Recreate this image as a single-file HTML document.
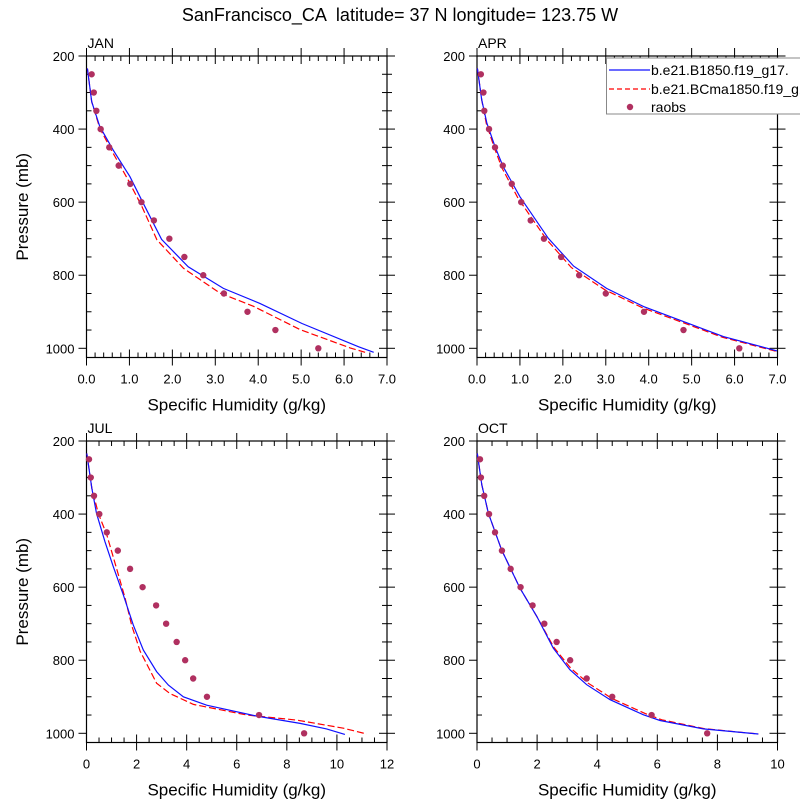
<!DOCTYPE html>
<html><head><meta charset="utf-8"><style>
body{margin:0;background:#fff}
svg{display:block;font-family:"Liberation Sans",sans-serif}
</style></head><body>
<svg id="c" width="800" height="800">
<text x="400" y="21" text-anchor="middle" font-size="18" style="white-space:pre" xml:space="preserve">SanFrancisco_CA  latitude= 37 N longitude= 123.75 W</text>
</svg>
<script>
const pLevels=[250,300,350,400,450,500,550,600,650,700,750,800,850,900,950,1000];
const janObs=[0.12,0.17,0.23,0.33,0.53,0.75,1.02,1.28,1.57,1.93,2.28,2.72,3.2,3.75,4.4,5.4];
const aprObs=[0.09,0.15,0.17,0.28,0.42,0.6,0.81,1.03,1.25,1.56,1.96,2.38,3.0,3.89,4.81,6.11];
const julObs=[0.1,0.17,0.3,0.51,0.81,1.25,1.74,2.24,2.78,3.18,3.6,3.94,4.26,4.81,6.89,8.69];
const octObs=[0.1,0.13,0.24,0.4,0.6,0.83,1.12,1.45,1.85,2.24,2.65,3.1,3.65,4.5,5.81,7.66];
const janBlueQ=[0.02,0.12,0.31,0.62,1.01,1.32,1.75,2.37,3.19,4.04,5.02,6.34,6.69];
const janBlueP=[234,325,393,457,530,603,702,777,836,877,932,996,1011];
const janRedQ=[0.02,0.12,0.31,0.62,0.97,1.29,1.64,2.26,3.11,3.89,4.98,6.14,6.49];
const janRedP=[234,325,398,466,539,612,703,781,849,885,949,999,1011];
const aprBlueQ=[0.01,0.11,0.23,0.42,0.61,1.0,1.66,2.25,3.02,3.88,4.81,5.74,6.99];
const aprBlueP=[234,320,384,448,503,585,699,775,836,886,927,968,1007];
const aprRedQ=[0.01,0.11,0.22,0.4,0.58,0.96,1.62,2.2,2.98,3.85,4.8,5.72,6.99];
const aprRedP=[234,320,386,450,506,590,702,779,840,889,930,970,1009];
const julBlueQ=[0.01,0.21,0.4,0.74,1.07,1.47,1.87,2.27,2.8,3.27,3.87,4.8,6.8,8.53,9.59,10.32];
const julBlueP=[234,329,398,476,544,621,704,772,831,868,900,923,953,973,988,1003];
const julRedQ=[0.01,0.21,0.47,0.81,1.2,1.54,1.8,2.14,2.8,3.33,4.27,6.4,8.4,10.26,11.19];
const julRedP=[234,329,398,457,548,630,704,775,863,891,921,950,964,986,1002];
const octBlueQ=[0.01,0.16,0.38,0.82,1.43,1.99,2.54,3.09,3.65,4.43,5.53,6.09,7.53,9.36];
const octBlueP=[234,320,398,498,603,680,767,826,867,908,949,965,988,1002];
const octRedQ=[0.01,0.16,0.38,0.82,1.43,1.99,2.56,3.12,3.7,4.5,5.6,6.15,7.55,9.36];
const octRedP=[234,320,398,498,603,680,765,822,863,905,946,963,987,1002];
const yTicks=[200,400,600,800,1000];
const xTicks7=["0.0","1.0","2.0","3.0","4.0","5.0","6.0","7.0"];
const xTicks12=["0","2","4","6","8","10","12"];
const xTicks10=["0","2","4","6","8","10"];

const NS="http://www.w3.org/2000/svg";
const svg=document.getElementById('c');
function mk(tag,attrs,parent){const e=document.createElementNS(NS,tag);for(const k in attrs)e.setAttribute(k,attrs[k]);(parent||svg).appendChild(e);return e;}

function panel(cfg){
  const L=cfg.x0,R=cfg.x0+300.5,T=cfg.y0,B=cfg.y0+301.5;
  const pMin=200,pMax=200+301.5/292.3*800;
  const xs=q=>L+q/cfg.xmax*(R-L);
  const ys=p=>T+(p-pMin)/(pMax-pMin)*(B-T);
  const g=mk('g',{});
  
  
  const fr=mk('rect',{x:L,y:T,width:R-L,height:B-T,fill:'none',stroke:'#000','stroke-width':1.2},g);
  
  
  for(let p=200;p<=1000;p+=50){
    const y=ys(p),maj=p%200===0;
    if(maj){mk('line',{x1:L-8,y1:y,x2:L,y2:y,stroke:'#000'},g);mk('line',{x1:R-8,y1:y,x2:R+8,y2:y,stroke:'#000'},g);}
    else{mk('line',{x1:L,y1:y,x2:L+5,y2:y,stroke:'#000'},g);mk('line',{x1:R-5,y1:y,x2:R+5,y2:y,stroke:'#000'},g);}
  }
  yTicks.forEach(p=>{const t=mk('text',{x:L-12,y:ys(p)+5,'text-anchor':'end','font-size':13},g);t.textContent=p;
    });
  const nMaj=cfg.labels.length-1, step=cfg.xmax/nMaj;
  for(let i=0;i<=nMaj*cfg.minor;i++){
    const q=i*step/cfg.minor,x=xs(q),maj=i%cfg.minor===0;
    mk('line',{x1:x,y1:B+(maj?8:0),x2:x,y2:B-(maj?8:5),stroke:'#000'},g);
    mk('line',{x1:x,y1:T-(maj?8:0),x2:x,y2:T+(maj?8:5),stroke:'#000'},g);
  }
  cfg.labels.forEach((lb,i)=>{const t=mk('text',{x:xs(i*step),y:B+26,'text-anchor':'middle','font-size':13},g);t.textContent=lb;
    });
  const xt=mk('text',{x:(L+R)/2,y:B+53,'text-anchor':'middle','font-size':17},g);xt.textContent='Specific Humidity (g/kg)';
  
  if(cfg.ylab){const yt=mk('text',{x:0,y:0,transform:`translate(28,${(T+B)/2}) rotate(-90)`,'text-anchor':'middle','font-size':17},g);yt.textContent='Pressure (mb)';
    }
  const pt=mk('text',{x:L+1,y:T-8,'font-size':14},g);pt.textContent=cfg.label;
  
  const path=(Q,P)=>Q.map((q,i)=>(i?'L':'M')+xs(q).toFixed(1)+','+ys(P[i]).toFixed(1)).join('');
  const rl=mk('path',{d:path(cfg.rq,cfg.rp),fill:'none',stroke:'#f00','stroke-width':1.2,'stroke-dasharray':'7,3'},g);
  
  const bl=mk('path',{d:path(cfg.bq,cfg.bp),fill:'none',stroke:'#1010ff','stroke-width':1.2},g);
  
  cfg.obs.forEach((q,i)=>{const c=mk('circle',{cx:xs(q),cy:ys(pLevels[i]),r:3.2,fill:'#b03060'},g);
    });
}
panel({name:'jan',label:'JAN',x0:86.5,y0:56,xmax:7,labels:xTicks7,minor:5,obs:janObs,bq:janBlueQ,bp:janBlueP,rq:janRedQ,rp:janRedP,ylab:true});
panel({name:'apr',label:'APR',x0:477,y0:56,xmax:7,labels:xTicks7,minor:5,obs:aprObs,bq:aprBlueQ,bp:aprBlueP,rq:aprRedQ,rp:aprRedP,ylab:false});
panel({name:'jul',label:'JUL',x0:86.5,y0:441,xmax:12,labels:xTicks12,minor:4,obs:julObs,bq:julBlueQ,bp:julBlueP,rq:julRedQ,rp:julRedP,ylab:true});
panel({name:'oct',label:'OCT',x0:477,y0:441,xmax:10,labels:xTicks10,minor:4,obs:octObs,bq:octBlueQ,bp:octBlueP,rq:octRedQ,rp:octRedP,ylab:false});
const lg=mk('g',{});


mk('rect',{x:606.5,y:58,width:200,height:56,fill:'#fff',stroke:'#888'},lg);
mk('line',{x1:609,y1:70,x2:650,y2:70,stroke:'#1010ff','stroke-width':1.2},lg);
mk('line',{x1:609,y1:89,x2:650,y2:89,stroke:'#f00','stroke-width':1.2,'stroke-dasharray':'5,3'},lg);
mk('circle',{cx:630,cy:107,r:3.2,fill:'#b03060'},lg);
[['b.e21.B1850.f19_g17.','legend-entry-b1850',75],['b.e21.BCma1850.f19_g17','legend-entry-bcma1850',94],['raobs','legend-entry-raobs',112]].forEach(a=>{
  const t=mk('text',{x:651,y:a[2],'font-size':14},lg);t.textContent=a[0];
  });
</script>
</body></html>
